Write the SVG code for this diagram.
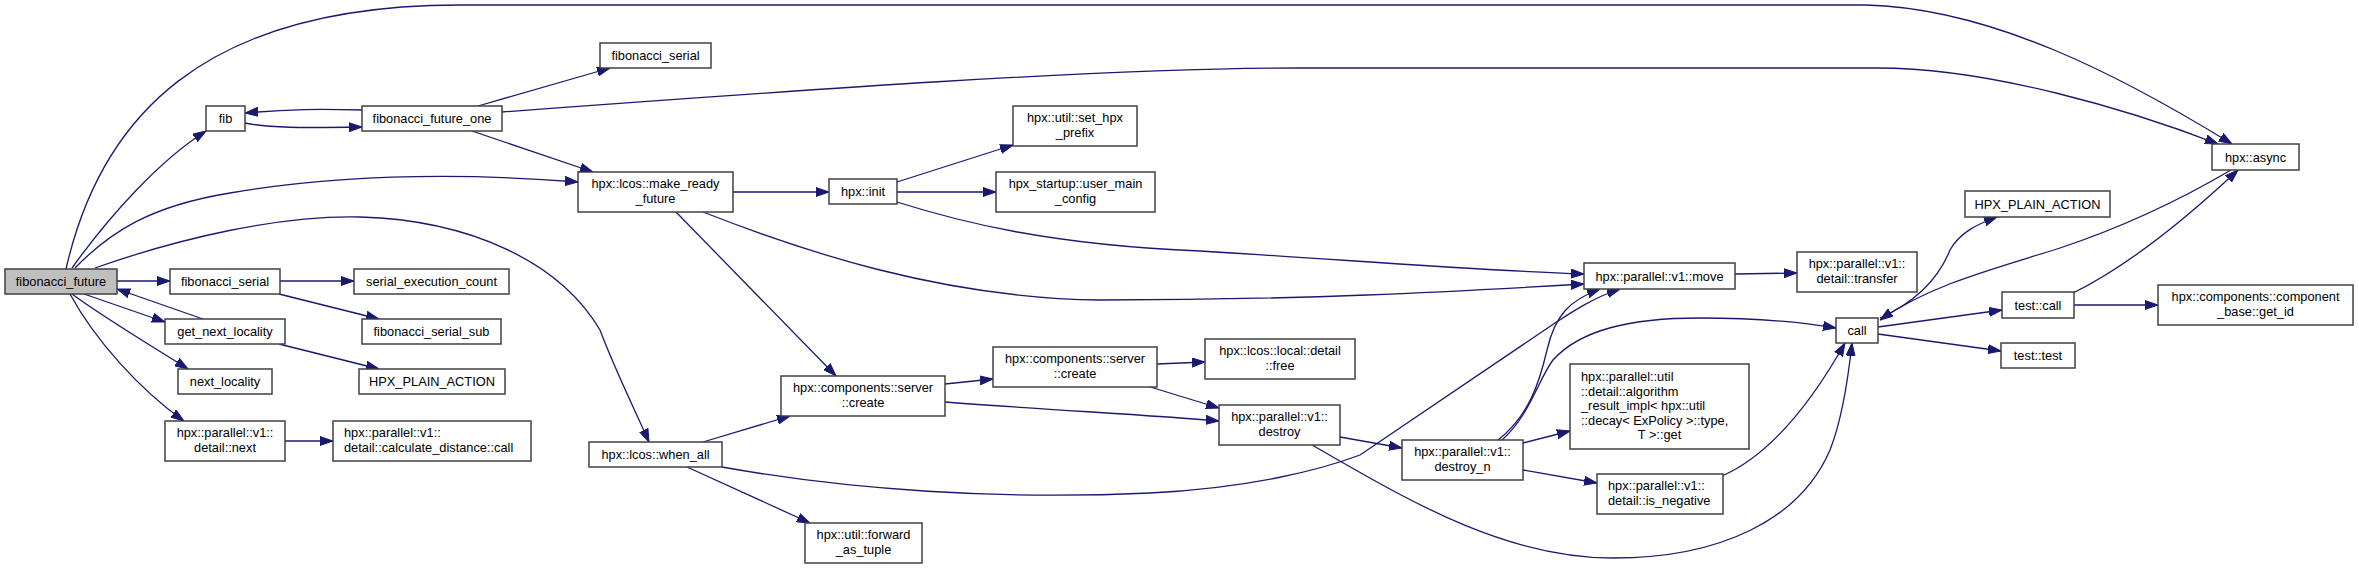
<svg xmlns="http://www.w3.org/2000/svg" width="2359" height="569" viewBox="0 0 2359 569">
<style>
.n rect{fill:#fff;stroke:#404040;stroke-width:1.5}
.n.hl rect{fill:#bfbfbf}
.n text{font-family:"Liberation Sans",Arial,sans-serif;font-size:12.8px;fill:#000;text-anchor:middle}
.n text.l{text-anchor:start}
#edges path{fill:none;stroke:#191970;stroke-width:1.3;marker-end:url(#ah)}
</style>
<defs>
<marker id="ah" markerWidth="13" markerHeight="10" refX="13" refY="5" orient="auto" markerUnits="userSpaceOnUse" viewBox="0 0 13 10">
<path d="M0,0.5 L13,5 L0,9.5 z" fill="#191970" stroke="#191970" stroke-width="1"/>
</marker>
</defs>
<rect width="2359" height="569" fill="#fff"/>
<g id="edges">
<path d="M66,269 C100,120 200,5 460,5 L1866,5 C1990,8 2120,75 2232,144"/>
<path d="M502,112 C800,90 1100,68 1300,68 L1878,68 C1990,68 2130,110 2218,144"/>
<path d="M72,268 C110,215 160,160 206,131"/>
<path d="M75,268 C110,232 150,206 230,193 C330,176 450,172 578,182"/>
<path d="M95,268 C180,238 280,215 360,217 C470,220 560,262 600,330 C615,370 635,410 649,442"/>
<path d="M117,281 L170,281"/>
<path d="M84,294 L165,322"/>
<path d="M203,319 L117,289"/>
<path d="M72,294 C100,315 150,345 188,369"/>
<path d="M70,294 C95,340 140,390 184,421"/>
<path d="M280,281 L354,281"/>
<path d="M279,294 L379,319"/>
<path d="M279,344 L379,369"/>
<path d="M285,441 L333,441"/>
<path d="M245,123 C270,128 300,128 362,127"/>
<path d="M362,110 C320,109 290,109 245,113"/>
<path d="M478,106 L610,68"/>
<path d="M472,131 L593,172"/>
<path d="M733,192 L829,192"/>
<path d="M897,182 L1013,145"/>
<path d="M897,192 L996,192"/>
<path d="M897,202 C960,222 1050,245 1200,251 C1350,260 1470,270 1584,274"/>
<path d="M676,212 L836,376"/>
<path d="M703,212 C800,250 940,298 1100,300 C1300,300 1450,292 1584,284"/>
<path d="M703,442 L790,416"/>
<path d="M687,467 L810,523"/>
<path d="M722,467 C850,490 1000,500 1150,493 C1250,488 1320,470 1360,455 L1555,323 C1575,310 1595,297 1620,289"/>
<path d="M945,384 L993,379"/>
<path d="M945,402 C1050,410 1150,415 1219,421"/>
<path d="M1157,364 L1205,362"/>
<path d="M1147,386 L1219,408"/>
<path d="M1340,437 L1402,448"/>
<path d="M1523,443 L1570,431"/>
<path d="M1523,470 L1597,483"/>
<path d="M1498,440 C1530,415 1540,380 1547,350 C1555,315 1570,300 1600,289"/>
<path d="M1502,440 C1530,415 1538,380 1553,360 C1580,330 1630,318 1700,318 C1750,318 1800,322 1836,328"/>
<path d="M1312,445 C1400,495 1500,558 1613,558 C1720,558 1800,520 1830,450 C1842,420 1848,380 1852,343"/>
<path d="M1722,476 C1770,455 1810,405 1845,343"/>
<path d="M1735,274 L1797,273"/>
<path d="M1878,327 L2002,310"/>
<path d="M1878,334 L2001,351"/>
<path d="M1880,318 C1920,300 1940,275 1950,250 C1960,232 1978,224 1997,217"/>
<path d="M2231,170 C2180,200 2120,228 2060,248 C1990,270 1930,285 1880,320"/>
<path d="M2073,293 C2130,265 2190,215 2238,170"/>
<path d="M2074,305 L2158,305"/>
</g>
<g id="n1" class="n hl"><rect x="5" y="269" width="112" height="25"/><text x="61" y="286">fibonacci_future</text></g>
<g id="n2" class="n"><rect x="206" y="106" width="39" height="25"/><text x="225.5" y="123">fib</text></g>
<g id="n3" class="n"><rect x="362" y="106" width="140" height="25"/><text x="432" y="123">fibonacci_future_one</text></g>
<g id="n4" class="n"><rect x="600" y="43" width="111" height="25"/><text x="655.5" y="60">fibonacci_serial</text></g>
<g id="n5" class="n"><rect x="170" y="269" width="110" height="25"/><text x="225" y="286">fibonacci_serial</text></g>
<g id="n6" class="n"><rect x="354" y="269" width="155" height="25"/><text x="431.5" y="286">serial_execution_count</text></g>
<g id="n7" class="n"><rect x="362" y="319" width="139" height="25"/><text x="431.5" y="336">fibonacci_serial_sub</text></g>
<g id="n8" class="n"><rect x="165" y="319" width="120" height="25"/><text x="225" y="336">get_next_locality</text></g>
<g id="n9" class="n"><rect x="178" y="369" width="94" height="25"/><text x="225" y="386">next_locality</text></g>
<g id="n10" class="n"><rect x="359" y="369" width="146" height="25"/><text x="432" y="386">HPX_PLAIN_ACTION</text></g>
<g id="n11" class="n"><rect x="165" y="421" width="120" height="40"/><text x="225" y="437">hpx::parallel::v1::</text><text x="225" y="452">detail::next</text></g>
<g id="n12" class="n"><rect x="333" y="421" width="198" height="40"/><text class="l" x="344" y="437">hpx::parallel::v1::</text><text class="l" x="344" y="452">detail::calculate_distance::call</text></g>
<g id="n13" class="n"><rect x="578" y="172" width="155" height="40"/><text x="655.5" y="188">hpx::lcos::make_ready</text><text x="655.5" y="203">_future</text></g>
<g id="n14" class="n"><rect x="829" y="179" width="68" height="25"/><text x="863" y="196">hpx::init</text></g>
<g id="n15" class="n"><rect x="1013" y="106" width="124" height="40"/><text x="1075" y="122">hpx::util::set_hpx</text><text x="1075" y="137">_prefix</text></g>
<g id="n16" class="n"><rect x="996" y="172" width="159" height="40"/><text x="1075.5" y="188">hpx_startup::user_main</text><text x="1075.5" y="203">_config</text></g>
<g id="n17" class="n"><rect x="589" y="442" width="133" height="25"/><text x="655.5" y="459">hpx::lcos::when_all</text></g>
<g id="n18" class="n"><rect x="805" y="523" width="117" height="40"/><text x="863.5" y="539">hpx::util::forward</text><text x="863.5" y="554">_as_tuple</text></g>
<g id="n19" class="n"><rect x="781" y="376" width="164" height="40"/><text x="863" y="392">hpx::components::server</text><text x="863" y="407">::create</text></g>
<g id="n20" class="n"><rect x="993" y="347" width="164" height="40"/><text x="1075" y="363">hpx::components::server</text><text x="1075" y="378">::create</text></g>
<g id="n21" class="n"><rect x="1205" y="339" width="150" height="40"/><text x="1280" y="355">hpx::lcos::local::detail</text><text x="1280" y="370">::free</text></g>
<g id="n22" class="n"><rect x="1219" y="405" width="121" height="40"/><text x="1279.5" y="421">hpx::parallel::v1::</text><text x="1279.5" y="436">destroy</text></g>
<g id="n23" class="n"><rect x="1402" y="440" width="121" height="40"/><text x="1462.5" y="456">hpx::parallel::v1::</text><text x="1462.5" y="471">destroy_n</text></g>
<g id="n24" class="n"><rect x="1570" y="364" width="179" height="85"/><text class="l" x="1581" y="381">hpx::parallel::util</text><text class="l" x="1581" y="395.5">::detail::algorithm</text><text class="l" x="1581" y="410">_result_impl&lt; hpx::util</text><text class="l" x="1581" y="424.5">::decay&lt; ExPolicy &gt;::type,</text><text x="1659.5" y="439">T &gt;::get</text></g>
<g id="n25" class="n"><rect x="1597" y="474" width="126" height="40"/><text class="l" x="1608" y="490">hpx::parallel::v1::</text><text class="l" x="1608" y="505">detail::is_negative</text></g>
<g id="n26" class="n"><rect x="1584" y="263" width="151" height="26"/><text x="1659.5" y="280.5">hpx::parallel::v1::move</text></g>
<g id="n27" class="n"><rect x="1797" y="252" width="120" height="40"/><text x="1857" y="268">hpx::parallel::v1::</text><text x="1857" y="283">detail::transfer</text></g>
<g id="n28" class="n"><rect x="1836" y="318" width="42" height="25"/><text x="1857" y="335">call</text></g>
<g id="n29" class="n"><rect x="1965" y="191" width="145" height="26"/><text x="2037.5" y="208.5">HPX_PLAIN_ACTION</text></g>
<g id="n30" class="n"><rect x="2212" y="144" width="87" height="26"/><text x="2255.5" y="161.5">hpx::async</text></g>
<g id="n31" class="n"><rect x="2002" y="292" width="72" height="26"/><text x="2038" y="309.5">test::call</text></g>
<g id="n32" class="n"><rect x="2001" y="343" width="74" height="25"/><text x="2038" y="360">test::test</text></g>
<g id="n33" class="n"><rect x="2158" y="285" width="195" height="40"/><text x="2255.5" y="301">hpx::components::component</text><text x="2255.5" y="316">_base::get_id</text></g>
</svg>
